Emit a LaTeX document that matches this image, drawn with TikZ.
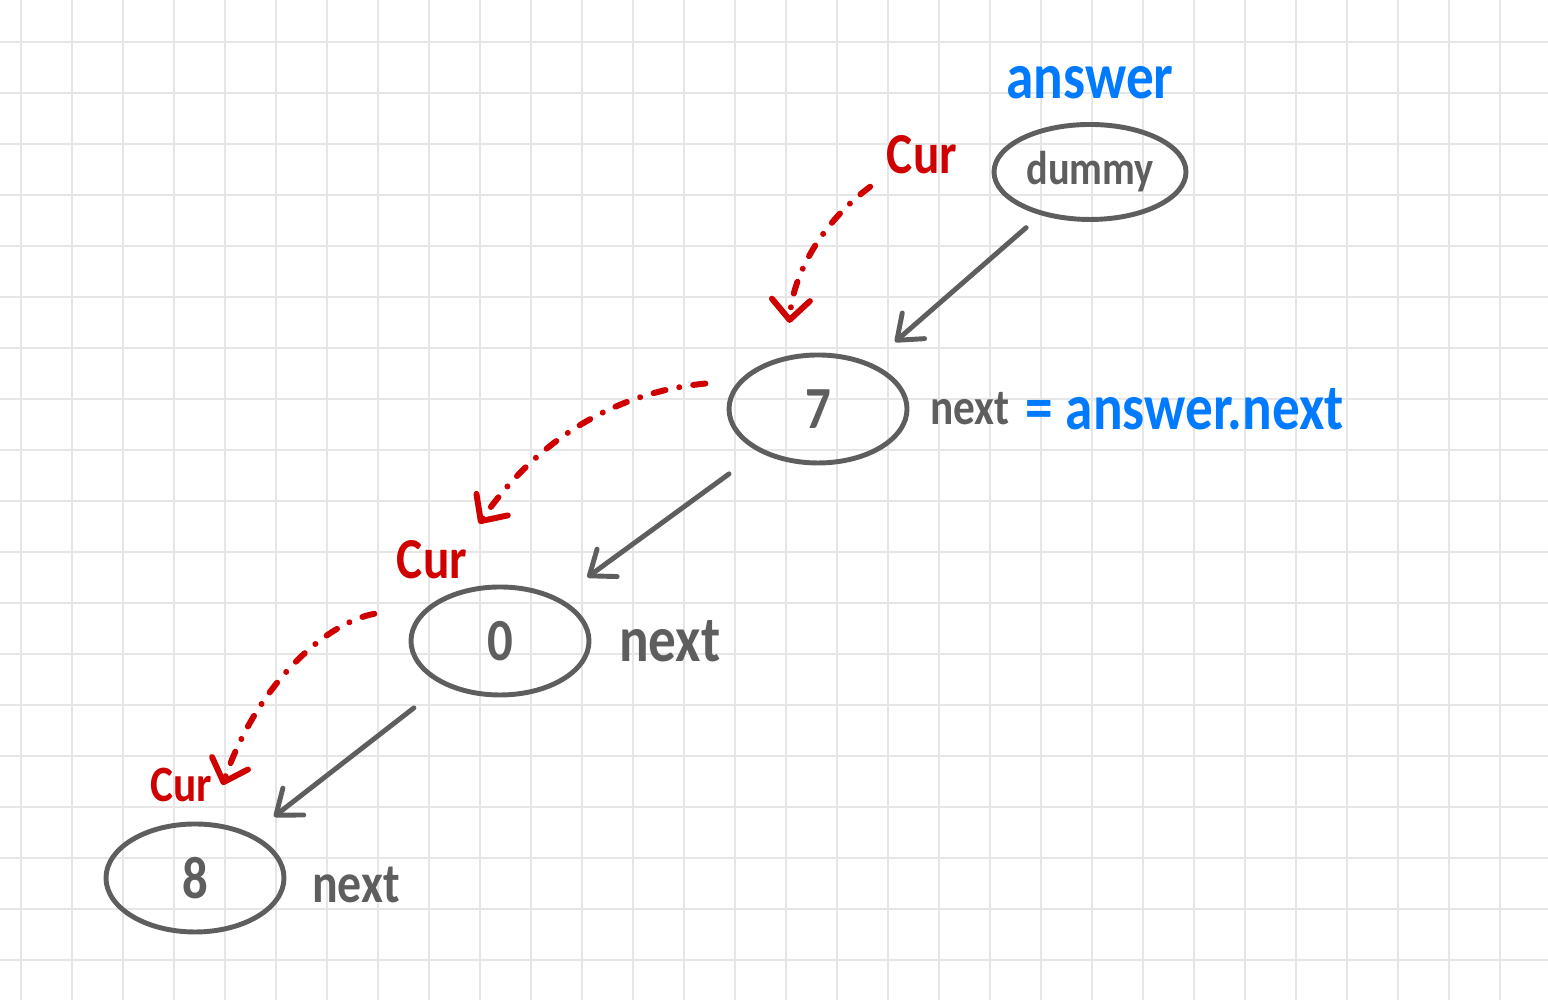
\documentclass[tikz,border=0pt]{standalone}
\usepackage{fontspec}
\newfontfamily\handfont[FakeStretch=0.85]{Carlito}
\usetikzlibrary{arrows.meta,positioning,shapes.geometric}
\definecolor{inkgray}{HTML}{5E5E5E}
\definecolor{inkred}{HTML}{D00000}
\definecolor{inkblue}{HTML}{007AFF}
\definecolor{gridgray}{HTML}{E6E6E6}
\tikzset{
  listarr/.style={-{Straight Barb[round, length=2.2mm, width=3.4mm]}, line width=1.4pt, draw=inkgray, line cap=round},
  curarr/.style={-{Straight Barb[round, length=2mm, width=3.8mm]}, line width=1.7pt, draw=inkred, line cap=round,
    dash pattern=on 3.5pt off 4pt on 0.01pt off 4pt},
  listnode/.style={ellipse, draw=inkgray, line width=1.4pt, inner sep=0pt, minimum width=1.78cm, minimum height=1.08cm,
    text=inkgray, handsize=17},
  handsize/.style={font=\handfont\bfseries\fontsize{#1}{#1}\selectfont},
}

\begin{document}
\begin{tikzpicture}[
  gridline/.style={draw=gridgray, line width=0.6pt},
  lbl/.style={inner sep=0pt, handsize=18},
]
  \fill[white] (0,0) rectangle (15.48,10);
  \useasboundingbox (0,0) rectangle (15.48,10);
  \foreach \i in {0,...,29}
    \draw[gridline] (0.21+0.51*\i,0) -- (0.21+0.51*\i,10);
  \foreach \j in {0,...,18}
    \draw[gridline] (0,9.58-0.51*\j) -- (15.48,9.58-0.51*\j);

  \node[listnode, minimum width=1.92cm, minimum height=0.95cm, handsize=13.5] (dummy) at (10.90,8.28) {dummy};
  \node[listnode] (n7) at (8.18,5.91) {7};
  \node[listnode] (n0) at (5.00,3.59) {0};
  \node[listnode] (n8) at (1.95,1.22) {8};

  \node[lbl, text=inkblue, handsize=18.5, above=0.22cm of dummy] (answer) {answer};
  \node[lbl, text=inkgray, handsize=14.5, right=0.2cm of n7] (next7) {next};
  \node[lbl, text=inkblue, handsize=18.5, right=0.15cm of next7] (answernext) {= answer.next};
  \node[lbl, text=inkgray, handsize=18.5, right=0.27cm of n0] (next0) {next};
  \node[lbl, text=inkgray, handsize=16, right=0.25cm of n8, yshift=-0.07cm] (next8) {next};

  \node[lbl, text=inkred, handsize=16.5] (cur1) at (9.22,8.45) {Cur};
  \node[lbl, text=inkred, handsize=16.5] (cur2) at (4.32,4.40) {Cur};
  \node[lbl, text=inkred, handsize=14.5] (cur3) at (1.81,2.15) {Cur};

  \foreach \a/\b/\s/\e in {dummy/n7/0.19/0.32, n7/n0/0.37/0.35, n0/n8/0.37/0.28}
    \draw[listarr, shorten <=\s cm, shorten >=\e cm] (\a) -- (\b);

  \draw[curarr, shorten <=0.2cm, shorten >=0.33cm] (cur1.south west) to[bend right=25] (n7.120);
  \draw[curarr, shorten <=0.34cm, shorten >=0.2cm] (n7.160) to[bend right=25] (cur2.north east);
  \draw[curarr, shorten <=0.6cm] (n0.150) to[bend right=30] ([xshift=0.1cm]cur3.east);
\end{tikzpicture}
\end{document}
